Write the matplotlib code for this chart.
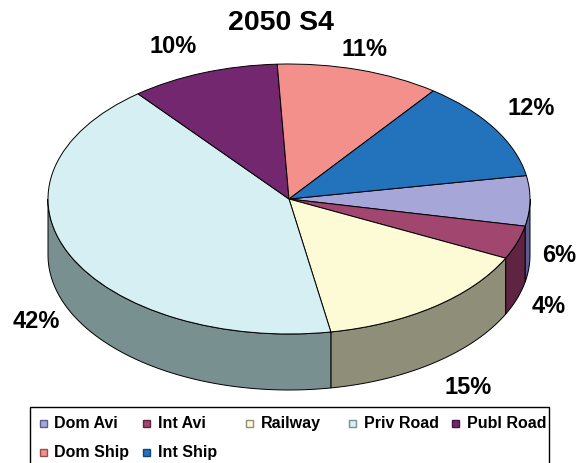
import numpy as np
import matplotlib.pyplot as plt
from matplotlib.patches import Polygon, Rectangle

plt.rcParams['font.family'] = ['Liberation Sans', 'DejaVu Sans']

title = "2050 S4"
labels = ["Dom Avi", "Int Avi", "Railway", "Priv Road", "Publ Road", "Dom Ship", "Int Ship"]
shares = [6, 4, 15, 42, 10, 11, 12]
top_colors = ["#A6A6D8", "#A0466F", "#FDFAD6", "#D6EFF3", "#72276F", "#F4908B", "#2373BC"]
side_colors = ["#5C5C8E", "#5E2441", "#8F8E78", "#799090", "#42163F", "#8E5350", "#154472"]
# small nudges for the percentage labels (data units)
label_nudge = [(-0.03, 0.01), (-0.01, -0.01), (0.05, -0.06), (0.0, -0.02),
               (-0.073, 0.058), (-0.025, 0.01), (0.024, 0.071)]

W, H = 583, 463
CX, CY = 289, 199      # pie centre in px (from top left)
RX, RY = 241, 135      # half axes of the top ellipse in px
DEPTH = 56             # thickness of the pie in px
START = 10

fig = plt.figure(figsize=(W / 100, H / 100), dpi=100)
ax = fig.add_axes([0, 0, 1, 1])
wedges, _ = ax.pie(shares, colors=top_colors, startangle=START, counterclock=False,
                   wedgeprops=dict(edgecolor='black', linewidth=0.7, zorder=3))
ax.set_aspect('auto')
ax.set_xlim(-CX / RX, (W - CX) / RX)
ax.set_ylim(-(H - CY) / RY, CY / RY)
ax.axis('off')
d = DEPTH / RY

# visible side walls (lower half of the ellipse)
for w, c in zip(wedges, side_colors):
    t1, t2 = w.theta1, w.theta2
    for k in (-1, 0, 1):
        lo = max(t1, -180 + 360 * k)
        hi = min(t2, 360 * k)
        if hi > lo:
            t = np.radians(np.linspace(lo, hi, 80))
            xs, ys = np.cos(t), np.sin(t)
            pts = np.concatenate([np.column_stack([xs, ys]),
                                  np.column_stack([xs[::-1], ys[::-1] - d])])
            ax.add_patch(Polygon(pts, closed=True, facecolor=c, edgecolor='black',
                                 linewidth=0.7, zorder=2))

# percentage labels
for w, v, (nx, ny) in zip(wedges, shares, label_nudge):
    m = np.radians((w.theta1 + w.theta2) / 2)
    x = 1.15 * np.cos(m)
    y = 1.15 * np.sin(m)
    if np.sin(m) < 0:
        y -= d
    ax.text(x + nx, y + ny, f"{v}%", ha='center', va='center', fontsize=17,
            fontweight='bold', zorder=5)

fig.text(281 / W, 1 - 23 / H, title, ha='center', va='center', fontsize=20.5, fontweight='bold')

# legend drawn in pixel coordinates
lax = fig.add_axes([0, 0, 1, 1])
lax.set_xlim(0, W)
lax.set_ylim(H, 0)
lax.axis('off')
lax.add_patch(Rectangle((30, 407), 519, 60, facecolor='white', edgecolor='black', linewidth=1))
for i, (lab, c, ec) in enumerate(zip(labels, top_colors, side_colors)):
    col, row = i % 5, i // 5
    mx = 43 + col * 103.2
    my = 423.5 + row * 28.5
    lax.add_patch(Rectangle((mx - 3.5, my - 3.5), 7, 7, facecolor=c, edgecolor=ec, linewidth=1))
    lax.text(mx + 11.5, my, lab, ha='left', va='center', fontsize=11.5, fontweight='bold')

fig.savefig("out.png", dpi=100)
